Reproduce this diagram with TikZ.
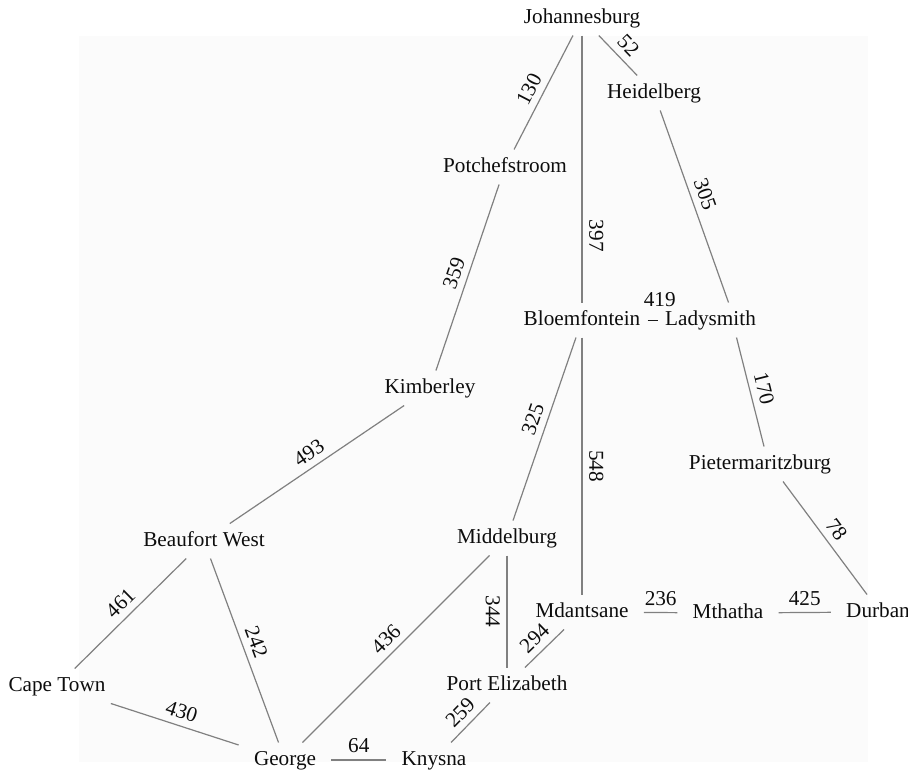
\documentclass[tikz,border=0pt]{standalone}
\usepackage{fontspec}
\setmainfont{Liberation Serif}
\begin{document}
\begin{tikzpicture}[
    x=0.5pt, y=-0.5pt,
    city/.style={font=\fontsize{10.6}{12}\selectfont, text=black!95,
        text height=7.3pt, text depth=2.3pt, inner xsep=7.5pt, inner ysep=3.75pt},
    road/.style={draw=black!50, line width=0.6pt},
    dist/.style={font=\fontsize{10.6}{12}\selectfont, text=black!95,
        sloped, above, inner sep=3.3pt},
]
    % Background
    \useasboundingbox (0,0) rectangle (908,771);
    \fill[black!1.5] (79,36) rectangle (868,762);

    % Cities
    \node[city] (jhb)    at (582,18)  {Johannesburg};
    \node[city] (heid)   at (654,93)  {Heidelberg};
    \node[city] (potch)  at (505,167) {Potchefstroom};
    \node[city] (bloem)  at (582,320) {Bloemfontein};
    \node[city] (lady)   at (710.5,320) {Ladysmith};
    \node[city] (kimb)   at (430,388) {Kimberley};
    \node[city] (pmb)    at (760,464) {Pietermaritzburg};
    \node[city] (bw)     at (204,541) {Beaufort West};
    \node[city] (midd)   at (507,538) {Middelburg};
    \node[city] (mdant)  at (582,612) {Mdantsane};
    \node[city] (mth)    at (728,613) {Mthatha};
    \node[city] (dbn)    at (878,612) {Durban};
    \node[city] (ct)     at (57,686)  {Cape Town};
    \node[city] (pe)     at (507,685) {Port Elizabeth};
    \node[city] (george) at (285,760) {George};
    \node[city] (knysna) at (434,760) {Knysna};

    % Roads with distances
    \foreach \a/\b/\d/\p in {jhb/potch/130/.53, jhb/heid/52/.5, potch/kimb/359/.5,
        bloem/midd/325/.47, bloem/mdant/548/.5, kimb/bw/493/.5, bw/ct/461/.5,
        bw/george/242/.48, midd/george/436/.5, mdant/pe/294/.5, pe/knysna/259/.5,
        ct/george/430/.52, george/knysna/64/.5, mdant/mth/236/.5, mth/dbn/425/.5} {
        \draw[road] (\a) -- node[dist, pos=\p] {\d} (\b);
    }
    \draw[road] (jhb) -- node[dist, pos=.75] {397} (bloem);
    \draw[road] (midd) -- node[dist, below] {344} (pe);
    \draw[road] (heid) -- node[dist, pos=.46] {305} ([xshift=9pt]lady.north);
    \draw[road] ([xshift=13pt]lady.south) -- node[dist] {170} ([xshift=2pt]pmb.north);
    \draw[road] ([xshift=11.5pt]pmb.south) -- node[dist] {78} ([xshift=-5.5pt]dbn.north);

    % Bloemfontein -- Ladysmith
    \draw[road, draw=black!90, line width=0.5pt] ([xshift=-4pt]bloem.east)
        -- node[dist, xshift=3.5pt, yshift=3.2pt] {419} ([xshift=4pt]lady.west);

\end{tikzpicture}
\end{document}
